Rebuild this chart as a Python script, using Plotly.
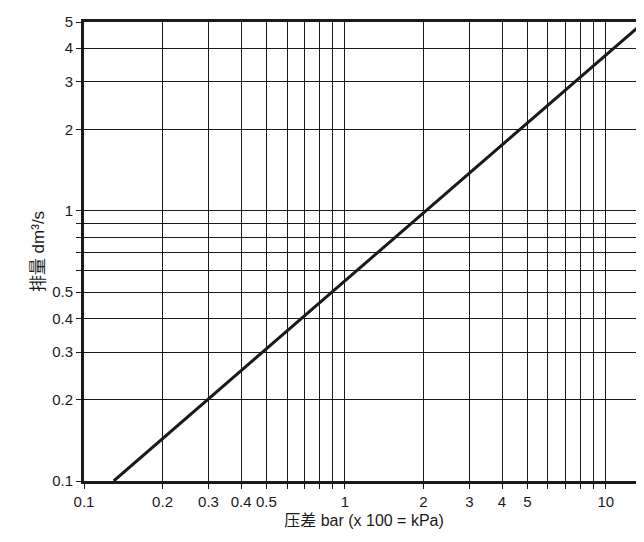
import plotly.graph_objects as go

x_vals = [0.13, 14]
y_vals = [0.1, 5]
x_grid = [0.1,0.2,0.3,0.4,0.5,0.6,0.7,0.8,0.9,1,2,3,4,5,6,7,8,9,10,14]
x_labels = {0.1:"0.1",0.2:"0.2",0.3:"0.3",0.4:"0.4",0.5:"0.5",1:"1",2:"2",3:"3",4:"4",5:"5",10:"10",14:"14"}
y_grid = [0.1,0.2,0.3,0.4,0.5,0.6,0.7,0.8,0.9,1,2,3,4,5]
y_labels = {0.1:"0.1",0.2:"0.2",0.3:"0.3",0.4:"0.4",0.5:"0.5",1:"1",2:"2",3:"3",4:"4",5:"5"}

fig = go.Figure(go.Scatter(x=x_vals, y=y_vals, mode="lines",
                           line=dict(color="#1a1a1a", width=3), showlegend=False))
fnt = dict(family="Liberation Sans, Arial", size=15, color="#1a1a1a")
fig.update_xaxes(type="log", range=[-1, 1.14625], tickvals=x_grid,
                 ticktext=[x_labels.get(v, "") for v in x_grid],
                 showgrid=True, gridcolor="#1a1a1a", gridwidth=1.2,
                 showline=True, linecolor="#1a1a1a", linewidth=3, mirror=True,
                 ticks="outside", ticklen=5, tickcolor="#1a1a1a", tickfont=fnt,
                 title=dict(text="压差 bar (x 100 = kPa)", font=dict(family="Liberation Sans, Noto Sans CJK SC", size=16, color="#1a1a1a"), standoff=6),
                 zeroline=False)
fig.update_yaxes(type="log", range=[-1, 0.69905], tickvals=y_grid,
                 ticktext=[y_labels.get(v, "") for v in y_grid],
                 showgrid=True, gridcolor="#1a1a1a", gridwidth=1.2,
                 showline=True, linecolor="#1a1a1a", linewidth=3, mirror=True,
                 ticks="outside", ticklen=5, tickcolor="#1a1a1a", tickfont=fnt,
                 title=dict(text="排量 dm³/s", font=dict(family="Liberation Sans, Noto Sans CJK SC", size=17, color="#1a1a1a"), standoff=4),
                 zeroline=False)
fig.update_layout(width=644, height=542, plot_bgcolor="white", paper_bgcolor="white",
                  margin=dict(l=76, r=5, t=10, b=69))
fig.write_html("out.html")
